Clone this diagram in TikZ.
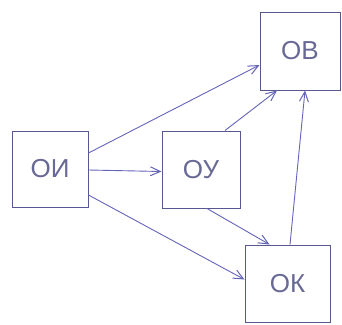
\documentclass[tikz,border=0pt]{standalone}
\usepackage{fontspec}
\setmainfont{Liberation Sans}
\usetikzlibrary{arrows.meta}
\definecolor{boxcol}{RGB}{88,88,145}
\definecolor{arrcol}{RGB}{100,100,185}
\definecolor{txtcol}{RGB}{105,105,150}
\begin{document}
\begin{tikzpicture}[x=1pt,y=-1pt,
  box/.style={draw=boxcol,line width=1pt,minimum width=#1,inner sep=0pt,
    text=txtcol,font=\fontsize{26}{26}\selectfont},
  conn/.style={draw=arrcol,line width=0.9pt,-{Straight Barb[length=10pt,width=9pt,line width=1pt]}}]
\useasboundingbox (0,0) rectangle (342,324);
\node[box=76pt,minimum height=76pt] (oi) at (50,169) {ОИ};
\node[box=78pt,minimum height=77pt] (ou) at (201,169.5) {ОУ};
\node[box=80pt,minimum height=78pt] (ob) at (300,51) {ОВ};
\node[box=85pt,minimum height=77pt] (ok) at (287.5,283.5) {ОК};
\draw[conn] ([yshift=16pt]oi.east) -- ([yshift=-14pt]ob.west);
\draw[conn] ([yshift=-1pt]oi.east) -- ([yshift=-2pt]ou.west);
\draw[conn] ([yshift=-26pt]oi.east) -- ([yshift=4pt]ok.west);
\draw[conn] ([xshift=24pt]ou.north) -- ([xshift=-23pt]ob.south);
\draw[conn] ([xshift=6pt]ou.south) -- ([xshift=-18pt]ok.north);
\draw[conn] ([xshift=2.5pt]ok.north) -- ([xshift=5pt]ob.south);
\end{tikzpicture}
\end{document}
